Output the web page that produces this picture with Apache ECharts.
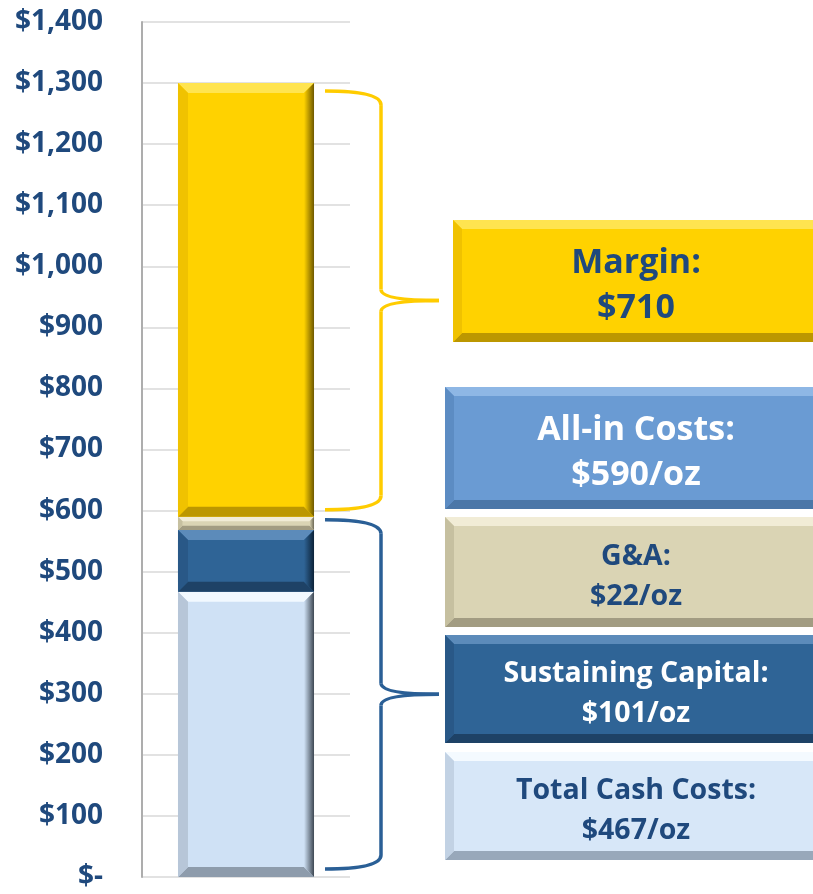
<!DOCTYPE html>
<html>
<head>
<meta charset="utf-8">
<script src="https://cdn.jsdelivr.net/npm/echarts@6/dist/echarts.min.js"></script>
<style>
  html, body { margin: 0; padding: 0; background: #fff; }
  #main { width: 813px; height: 894px; }
</style>
</head>
<body>
<div id="main"></div>
<script>
// data
var categories = ['Cost'];
var segNames = ['Total Cash Costs', 'Sustaining Capital', 'G&A', 'Margin'];
var segValues = [467, 101, 22, 710];
var yMin = 0, yMax = 1400, yStep = 100;

// bevel colours per segment: main, top, bottom, left, right
var palette = [
    { main: '#CFE1F5', top: '#F2F9FF', bottom: '#8E9CAC', left: '#B7C6D8', right: '#3E4853' },
    { main: '#2F6496', top: '#5C8BBA', bottom: '#1E4266', left: '#295887', right: '#0C2238' },
    { main: '#DAD4B4', top: '#F1ECD6', bottom: '#A29C82', left: '#C6C0A0', right: '#6C6856' },
    { main: '#FFD200', top: '#FFE450', bottom: '#BC9700', left: '#F0C200', right: '#6E5800' }
];

// stacked ranges
var stackData = [];
var acc = 0;
for (var i = 0; i < segValues.length; i++) {
    stackData.push([0, acc, acc + segValues[i], i]);
    acc += segValues[i];
}
var allIn = segValues[0] + segValues[1] + segValues[2];

//斜面矩形
function bevel(x, y, w, h, b, c) {
    return [
        { type: 'rect', shape: { x: x, y: y, width: w, height: h }, style: { fill: c.main } },
        { type: 'polygon', shape: { points: [[x, y], [x + w, y], [x + w - b, y + b], [x + b, y + b]] }, style: { fill: c.top } },
        { type: 'polygon', shape: { points: [[x, y + h], [x + w, y + h], [x + w - b, y + h - b], [x + b, y + h - b]] }, style: { fill: c.bottom } },
        { type: 'polygon', shape: { points: [[x, y], [x + b, y + b], [x + b, y + h - b], [x, y + h]] }, style: { fill: c.left } },
        {
            type: 'polygon', shape: { points: [[x + w, y], [x + w - b, y + b], [x + w - b, y + h - b], [x + w, y + h]] },
            style: {
                fill: {
                    type: 'linear', x: 0, y: 0, x2: 1, y2: 0,
                    colorStops: [{ offset: 0, color: c.main }, { offset: 1, color: c.right }]
                }
            }
        }
    ];
}

function renderSeg(params, api) {
    var s = api.coord([api.value(0), api.value(1)]);
    var e = api.coord([api.value(0), api.value(2)]);
    var bw = api.size([1, 0])[0] * 0.654;
    var x = s[0] - bw / 2, y = e[1], h = s[1] - e[1];
    var b = Math.min(10, h / 3);
    return { type: 'group', children: bevel(x, y, bw, h, b, palette[api.value(3)]) };
}

var chart = echarts.init(document.getElementById('main'));

var option = {
    animation: false,
    grid: { left: 142, top: 22, width: 208, height: 855 },
    xAxis: {
        type: 'category',
        data: categories,
        show: false
    },
    yAxis: {
        type: 'value',
        min: yMin,
        max: yMax,
        interval: yStep,
        axisLine: { show: true, lineStyle: { color: '#ADADAD', width: 2 } },
        axisTick: { show: false },
        splitLine: { show: true, lineStyle: { color: '#D9D9D9', width: 1.5 } },
        axisLabel: {
            margin: 39,
            color: '#1F497D',
            fontFamily: 'Open Sans',
            fontWeight: 'bold',
            fontSize: 28,
            formatter: function (v) {
                return v === 0 ? '$-' : '$' + v.toLocaleString('en-US');
            }
        }
    },
    series: [{
        type: 'custom',
        renderItem: renderSeg,
        encode: { x: 0, y: [1, 2] },
        data: stackData
    }]
};
chart.setOption(option);

// 括号
function brace(top, bottom, color) {
    var x0 = 325, xv = 381, xt = 439;
    var mid = (top + bottom) / 2;
    var st = { fill: null, stroke: color, lineWidth: 3.5 };
    function q(x1, y1, cx, cy, x2, y2) {
        return { type: 'bezierCurve', shape: { x1: x1, y1: y1, cpx1: cx, cpy1: cy, x2: x2, y2: y2 }, style: st };
    }
    function ln(x1, y1, x2, y2) {
        return { type: 'line', shape: { x1: x1, y1: y1, x2: x2, y2: y2 }, style: st };
    }
    return {
        type: 'group',
        children: [
            q(x0, top, xv, top, xv, top + 14),
            ln(xv, top + 14, xv, mid - 11),
            q(xv, mid - 11, xv, mid, xt, mid),
            q(xt, mid, xv, mid, xv, mid + 11),
            ln(xv, mid + 11, xv, bottom - 14),
            q(xv, bottom - 14, xv, bottom, x0, bottom)
        ]
    };
}
var yTop = chart.convertToPixel({ yAxisIndex: 0 }, acc);
var yAll = chart.convertToPixel({ yAxisIndex: 0 }, allIn);
var yZero = chart.convertToPixel({ yAxisIndex: 0 }, 0);

// 标签框
var boxTitles = ['Margin:', 'All-in Costs:', 'G&A:', 'Sustaining Capital:', 'Total Cash Costs:'];
var boxValues = ['$' + segValues[3], '$' + allIn + '/oz', '$' + segValues[2] + '/oz', '$' + segValues[1] + '/oz', '$' + segValues[0] + '/oz'];
var boxColors = [
    palette[3],
    { main: '#6A9BD3', top: '#8EB7E5', bottom: '#4B77A8', left: '#5C8CC3', right: '#3E6590' },
    palette[2],
    palette[1],
    { main: '#D7E7F8', top: '#F4FAFF', bottom: '#98A8BA', left: '#C2D2E4', right: '#7A8898' }
];
var boxRects = [
    [453, 220, 400, 122], [445, 387, 400, 122], [445, 517, 400, 110], [445, 635, 400, 108], [445, 752, 400, 108]
];
var textFill = ['#1F497D', '#FFFFFF', '#1F497D', '#FFFFFF', '#1F497D'];
var textSize = [34, 34, 28.5, 28.5, 28.5];
var lineH = [45, 45, 40, 40, 40];

var gfx = [brace(yTop + 8, yAll - 7, '#FFCC00'), brace(yAll + 3, yZero - 8, '#2A5F96')];
for (var k = 0; k < boxTitles.length; k++) {
    var r = boxRects[k];
    gfx.push({ type: 'group', children: bevel(r[0], r[1], r[2], r[3], 9, boxColors[k]) });
    gfx.push({
        type: 'text',
        style: {
            text: boxTitles[k] + '\n' + boxValues[k],
            x: 636,
            y: r[1] + r[3] / 2 + 5,
            align: 'center',
            verticalAlign: 'middle',
            lineHeight: lineH[k],
            fill: textFill[k],
            font: 'bold ' + textSize[k] + 'px "Open Sans"'
        }
    });
}
chart.setOption({ graphic: gfx });
</script>
</body>
</html>
